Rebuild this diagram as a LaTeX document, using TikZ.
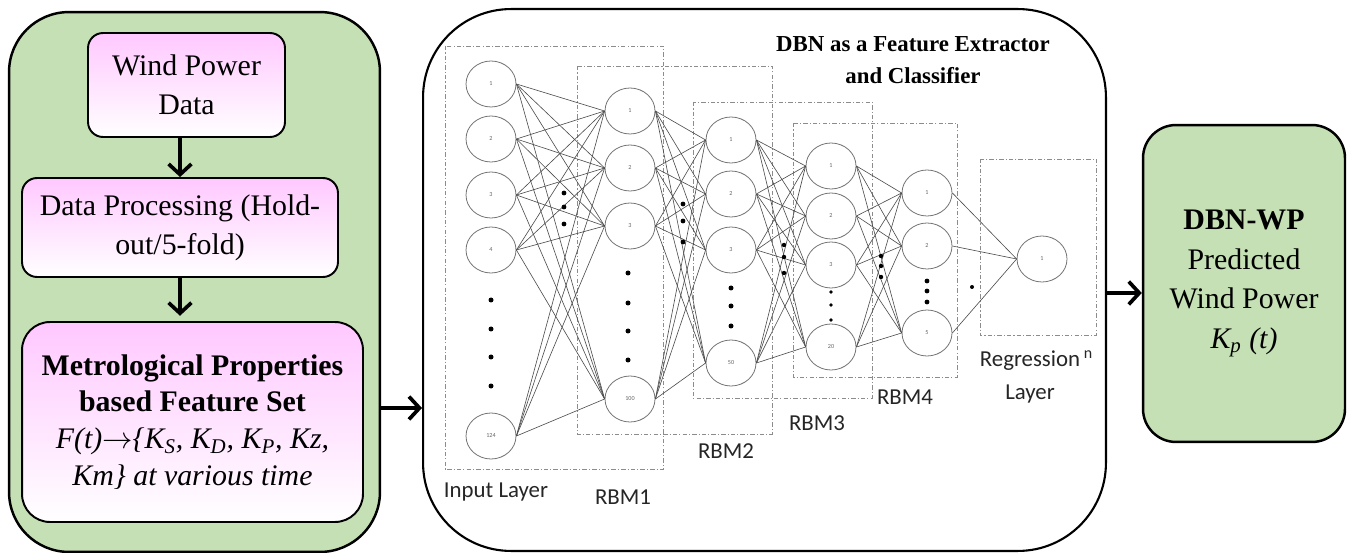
\documentclass[tikz,border=0pt]{standalone}
\usepackage{fontspec}
\setmainfont{Liberation Serif}
\newfontfamily\labelfont{Carlito}
\usetikzlibrary{arrows.meta, shapes.geometric}
\definecolor{panelgreen}{HTML}{C5E0B4}
\definecolor{boxpink}{HTML}{FFC8FF}

\begin{document}
\begin{tikzpicture}[x=0.02cm, y=-0.02cm,
   panel/.style={draw, line width=1.4pt, fill=panelgreen, inner sep=0pt},
   stagebox/.style={draw, line width=1.1pt, rounded corners=0.3cm, top color=boxpink, bottom color=white,
                    align=center, inner sep=0pt, font=\fontsize{17}{22}\selectfont},
   bigarrow/.style={line width=2.1pt, -{Straight Barb[length=6pt, width=13pt]}},
   unit/.style={ellipse, draw=black!55, line width=0.45pt, minimum width=1cm, minimum height=0.92cm,
                inner sep=0pt, text=black!60, font=\labelfont\fontsize{3.5}{4}\selectfont},
   link/.style={black!70, line width=0.35pt},
   group/.style={draw=black!45, line width=0.5pt, dash pattern=on 2.5pt off 1.2pt on 0.6pt off 1.2pt},
   tag/.style={align=center, text=black!85, font=\labelfont\fontsize{13}{19}\selectfont}]
   \useasboundingbox (0,0) rectangle (1354,553);

   % three panels
   \node[panel, rounded corners=1.2cm, minimum width=7.42cm, minimum height=10.8cm] (leftpanel) at (194.5,282) {};
   \node[panel, fill=white, line width=1.2pt, rounded corners=1.76cm, minimum width=13.66cm, minimum height=10.84cm] (dbnpanel) at (764.5,280) {};
   \node[panel, rounded corners=0.66cm, minimum width=4.04cm, minimum height=6.34cm, align=center,
         font=\fontsize{17}{22.5}\selectfont] (resultbox) at (1244,283.5)
        {\textbf{DBN-WP}\\ Predicted\\ Wind Power\\ \textit{K\textsubscript{p} (t)}};

   % left column
   \node[stagebox, minimum width=3.94cm, minimum height=2.08cm] (winddata) at (186.5,85) {Wind Power\\ Data};
   \node[stagebox, minimum width=6.32cm, minimum height=1.98cm] (dataproc) at (180,227.5) {Data Processing (Hold-\\ out/5-fold)};
   \node[stagebox, rounded corners=0.56cm, minimum width=6.82cm, minimum height=4cm, font=\fontsize{17}{21}\selectfont] (featset) at (192.5,422)
        {\textbf{Metrological Properties}\\ \textbf{based Feature Set}\\
         \textit{F(t)$\rightarrow$\{K\textsubscript{S}, K\textsubscript{D}, K\textsubscript{P}, Kz,}\\ \textit{Km\} at various time}};

   \draw[bigarrow] (dataproc.north |- winddata.south) -- (dataproc.north);
   \draw[bigarrow, shorten >=3pt] (dataproc.south) -- (dataproc.south |- featset.north);

   \coordinate (feedrow) at (0,408);
   \coordinate (outrow) at (0,293);
   \draw[bigarrow] (leftpanel.east |- feedrow) -- (dbnpanel.west |- feedrow);
   \draw[bigarrow] (dbnpanel.east |- outrow) -- (resultbox.west |- outrow);

   % network
   \node[align=center, font=\bfseries\fontsize{13}{18}\selectfont] (dbntitle) at (913,60) {DBN as a Feature Extractor\\ and Classifier};

   \draw[group] (445,46) rectangle (663,469);
   \draw[group] (577,66) rectangle (772,434);
   \draw[group] (693,102) rectangle (872,398);
   \draw[group] (793,123) rectangle (957,377);
   \draw[group] (980,159) rectangle (1096,335);

   \foreach \n/\y/\t in {1/84/1, 2/139/2, 3/195/3, 4/250/4, 5/436/124}
      \node[unit] (in\n) at (491,\y) {\t};
   \foreach \n/\y/\t in {1/111/1, 2/168/2, 3/226/3, 4/399/100}
      \node[unit] (ha\n) at (630,\y) {\t};
   \foreach \n/\y/\t in {1/140/1, 2/194/2, 3/250/3, 4/363/50}
      \node[unit] (hb\n) at (731,\y) {\t};
   \foreach \n/\y/\t in {1/166/1, 2/216/2, 3/265/3, 4/347/20}
      \node[unit] (hc\n) at (831,\y) {\t};
   \foreach \n/\y/\t in {1/193/1, 2/246/2, 3/333/5}
      \node[unit] (hd\n) at (927,\y) {\t};
   \node[unit] (out1) at (1042,259) {1};

   \foreach \a in {1,...,5} \foreach \b in {1,...,4} \draw[link] (in\a.east) -- (ha\b.west);
   \foreach \a in {1,...,4} \foreach \b in {1,...,4} \draw[link] (ha\a.east) -- (hb\b.west);
   \foreach \a in {1,...,4} \foreach \b in {1,...,4} \draw[link] (hb\a.east) -- (hc\b.west);
   \foreach \a in {1,...,4} \foreach \b in {1,...,3} \draw[link] (hc\a.east) -- (hd\b.west);
   \foreach \a in {1,...,3} \draw[link] (hd\a.east) -- (out1.west);

   % skipped units
   \foreach \y in {300,329,357,386} \fill (491,\y) circle [radius=2.5];
   \foreach \y in {273,303,331,360} \fill (628,\y) circle [radius=2.5];
   \foreach \y in {288,306,326} \fill (731,\y) circle [radius=2.5];
   \foreach \y in {292,305,320} \fill (831,\y) circle [radius=1.8];
   \foreach \y in {281,291,302} \fill (927,\y) circle [radius=2.4];
   \foreach \y in {193,207,224} \fill (564,\y) circle [radius=2.4];
   \foreach \y in {204,221,242} \fill (683,\y) circle [radius=2.4];
   \foreach \y in {245,257,273} \fill (784,\y) circle [radius=2.2];
   \foreach \y in {256,266,277} \fill (881,\y) circle [radius=2.2];
   \fill (972,287) circle [radius=2];

   \node[tag] (inlabel) at (496,492) {Input Layer};
   \node[tag] (rbmalabel) at (623,497) {RBM1};
   \node[tag] (rbmblabel) at (726,451) {RBM2};
   \node[tag] (rbmclabel) at (817,423) {RBM3};
   \node[tag] (rbmdlabel) at (905,397) {RBM4};
   \node[tag] (reglabel) at (1030,377) {Regression\rlap{\,\textsuperscript{n}}\\ Layer};
\end{tikzpicture}
\end{document}
